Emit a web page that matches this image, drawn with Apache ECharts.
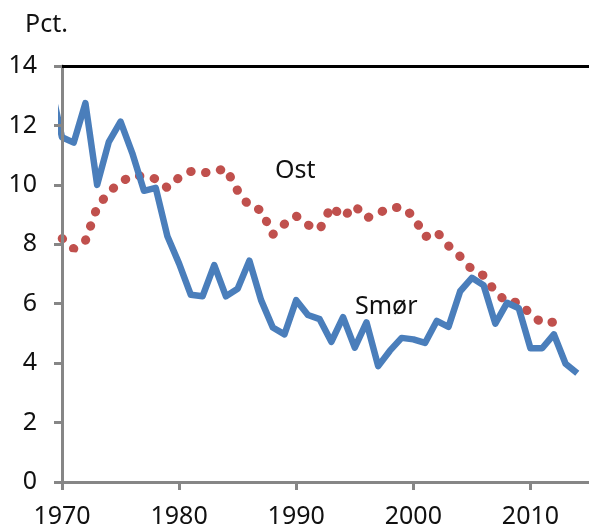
<!DOCTYPE html>
<html><head><meta charset="utf-8">
<script src="https://cdn.jsdelivr.net/npm/echarts@6/dist/echarts.min.js"></script>
<style>html,body{margin:0;padding:0;background:#fff}#c{width:589px;height:524px}</style>
</head><body><div id="c"></div>
<script>
// Years (1969 point lies left of the axis and is clipped, as in the reference)
const smorYears = [1969,1970,1971,1972,1973,1974,1975,1976,1977,1978,1979,1980,1981,1982,1983,1984,1985,1986,1987,1988,1989,1990,1991,1992,1993,1994,1995,1996,1997,1998,1999,2000,2001,2002,2003,2004,2005,2006,2007,2008,2009,2010,2011,2012,2013,2014];
const smorValues = [13.4,11.6,11.42,12.75,10.0,11.45,12.13,11.07,9.8,9.9,8.27,7.35,6.3,6.25,7.3,6.25,6.5,7.45,6.12,5.2,4.97,6.12,5.62,5.48,4.72,5.55,4.52,5.37,3.9,4.42,4.85,4.8,4.68,5.42,5.22,6.42,6.87,6.62,5.33,6.03,5.85,4.5,4.5,4.97,3.98,3.66];
const ostYears = [1969,1970,1971,1972,1973,1974,1975,1976,1977,1978,1979,1980,1981,1982,1983,1984,1985,1986,1987,1988,1989,1990,1991,1992,1993,1994,1995,1996,1997,1998,1999,2000,2001,2002,2003,2004,2005,2006,2007,2008,2009,2010,2011,2012,2013];
const ostValues = [8.5,8.2,7.85,8.12,9.25,9.75,10.1,10.3,10.3,10.2,9.9,10.25,10.45,10.4,10.45,10.55,9.8,9.28,9.15,8.33,8.68,8.95,8.65,8.5,9.28,8.9,9.3,8.88,9.05,9.22,9.25,8.95,8.25,8.42,7.95,7.59,7.15,6.95,6.4,6.05,6.05,5.65,5.35,5.38,5.45];
const xTicks = [1970,1980,1990,2000,2010];
const yTicks = [0,2,4,6,8,10,12,14];
const unitLabel = 'Pct.';
const ostName = 'Ost';
const smorName = 'Smør';

const FONT = 'Noto Sans';
const chart = echarts.init(document.getElementById('c'), null, {renderer:'canvas'});
const gray = '#868686';
chart.setOption({
  animation:false,
  backgroundColor:'#fff',
  textStyle:{fontFamily:FONT},
  grid:{left:62,right:0,top:66,bottom:42,outerBoundsMode:'none',containLabel:false},
  xAxis:[{
    type:'value',min:1970,max:2015,interval:10,
    axisLine:{show:true,lineStyle:{color:gray,width:3}},
    axisTick:{show:true,length:8,lineStyle:{color:gray,width:3},customValues:xTicks},
    axisLabel:{fontSize:25,color:'#111',fontFamily:FONT,margin:22,customValues:xTicks,formatter:v=>String(v)},
    splitLine:{show:false},z:5
  },{
    type:'value',min:1970,max:2015,position:'top',
    axisLine:{show:true,lineStyle:{color:'#000',width:3}},
    axisTick:{show:false},axisLabel:{show:false},splitLine:{show:false},z:5
  }],
  yAxis:{
    type:'value',min:0,max:14,interval:2,
    axisLine:{show:true,lineStyle:{color:gray,width:3}},
    axisTick:{show:true,length:8,lineStyle:{color:gray,width:3}},
    axisLabel:{fontSize:25,color:'#111',fontFamily:FONT,margin:25,customValues:yTicks},
    splitLine:{show:false},z:5
  },
  series:[{
    name:ostName,type:'line',symbol:'none',
    data:ostYears.map((y,i)=>[y,ostValues[i]]),
    lineStyle:{color:'#C0504D',width:9,type:[0.5,14.5],cap:'round'},
    z:2
  },{
    name:smorName,type:'line',symbol:'none',
    data:smorYears.map((y,i)=>[y,smorValues[i]]),
    lineStyle:{color:'#4A7EBB',width:6.5,join:'round'},
    z:2
  }],
  graphic:[
    {type:'text',left:25,top:12,style:{text:unitLabel,font:'25px "Noto Sans"',fill:'#111'}},
    {type:'text',x:275,y:171,style:{text:ostName,font:'25px "Noto Sans"',fill:'#111',textVerticalAlign:'middle'}},
    {type:'text',x:355,y:307,style:{text:smorName,font:'25px "Noto Sans"',fill:'#111',textVerticalAlign:'middle'}}
  ]
});
</script></body></html>
